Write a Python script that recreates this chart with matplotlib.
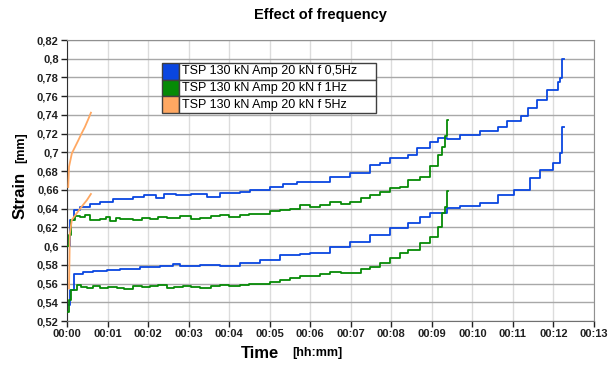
import matplotlib.pyplot as plt
from matplotlib.ticker import FuncFormatter

# time in minutes, strain in mm
t_05_upper = [0.05, 0.07, 0.17, 0.32, 0.57, 0.81, 1.14, 1.63, 1.90, 2.20, 2.40, 2.70, 2.79, 3.05, 3.45, 3.78,
              4.27, 4.52, 4.77, 5.01, 5.33, 5.67, 6.00, 6.49, 6.99, 7.48, 7.73, 7.98, 8.05, 8.42, 8.64, 8.96,
              9.16, 9.38, 9.70, 10.20, 10.62, 10.86, 11.19, 11.36, 11.60, 11.85, 12.10, 12.17, 12.22, 12.27]
s_05_upper = [0.600, 0.628, 0.638, 0.642, 0.645, 0.647, 0.650, 0.652, 0.654, 0.651, 0.656, 0.654, 0.6545, 0.6555,
              0.652, 0.6564, 0.6573, 0.660, 0.660, 0.6635, 0.666, 0.668, 0.6685, 0.674, 0.6776, 0.6866, 0.689,
              0.6937, 0.694, 0.697, 0.705, 0.711, 0.715, 0.714, 0.719, 0.723, 0.727, 0.733, 0.739, 0.747, 0.756,
              0.767, 0.775, 0.779, 0.800, 0.800]

t_05_lower = [0.05, 0.08, 0.18, 0.40, 0.65, 0.98, 1.31, 1.80, 2.30, 2.62, 2.79, 3.28, 3.78, 4.27, 4.77, 5.26,
              5.75, 6.00, 6.49, 6.99, 7.48, 7.98, 8.42, 8.72, 8.96, 9.38, 9.70, 10.20, 10.62, 11.02, 11.43, 11.68,
              12.00, 12.17, 12.22, 12.27]
s_05_lower = [0.537, 0.553, 0.5698, 0.5725, 0.573, 0.5743, 0.576, 0.578, 0.579, 0.5807, 0.5786, 0.5797, 0.579,
              0.5815, 0.585, 0.5905, 0.5915, 0.593, 0.599, 0.6046, 0.612, 0.619, 0.6243, 0.6313, 0.6356, 0.6403,
              0.6427, 0.6456, 0.6545, 0.660, 0.6723, 0.681, 0.6884, 0.699, 0.7268, 0.727]

t_1_upper = [0.03, 0.05, 0.10, 0.20, 0.32, 0.45, 0.57, 0.81, 0.95, 1.06, 1.20, 1.31, 1.63, 1.85, 2.05, 2.25, 2.47,
             2.79, 3.05, 3.28, 3.55, 3.78, 4.00, 4.27, 4.50, 4.77, 5.00, 5.26, 5.50, 5.75, 6.00, 6.25, 6.49, 6.75,
             6.99, 7.25, 7.48, 7.73, 7.98, 8.22, 8.42, 8.72, 8.96, 9.14, 9.26, 9.33, 9.37, 9.41]
s_1_upper = [0.600, 0.612, 0.628, 0.6317, 0.631, 0.633, 0.628, 0.629, 0.631, 0.627, 0.630, 0.629, 0.628, 0.630,
             0.629, 0.631, 0.630, 0.632, 0.629, 0.630, 0.632, 0.633, 0.631, 0.6328, 0.634, 0.6345, 0.637, 0.639,
             0.640, 0.6434, 0.642, 0.644, 0.6474, 0.645, 0.6474, 0.651, 0.6545, 0.658, 0.6616, 0.663, 0.6705,
             0.674, 0.685, 0.697, 0.706, 0.717, 0.735, 0.735]

t_1_lower = [0.03, 0.05, 0.10, 0.24, 0.35, 0.49, 0.65, 0.81, 1.00, 1.23, 1.40, 1.63, 1.85, 2.05, 2.25, 2.47, 2.65,
             2.87, 3.05, 3.28, 3.55, 3.78, 4.00, 4.27, 4.50, 4.77, 5.00, 5.26, 5.50, 5.75, 6.00, 6.25, 6.49, 6.75,
             6.99, 7.25, 7.48, 7.73, 7.98, 8.22, 8.42, 8.72, 8.96, 9.14, 9.26, 9.33, 9.38, 9.41]
s_1_lower = [0.530, 0.5423, 0.553, 0.5584, 0.556, 0.5555, 0.557, 0.5555, 0.556, 0.555, 0.554, 0.557, 0.556,
             0.557, 0.558, 0.555, 0.556, 0.557, 0.556, 0.555, 0.557, 0.5584, 0.557, 0.558, 0.559, 0.560, 0.562,
             0.5637, 0.566, 0.568, 0.568, 0.570, 0.5725, 0.571, 0.5714, 0.575, 0.578, 0.5815, 0.587, 0.5922,
             0.5957, 0.603, 0.610, 0.6206, 0.635, 0.642, 0.659, 0.659]

t_5_upper = [0.03, 0.05, 0.12, 0.20, 0.28, 0.36, 0.44, 0.53, 0.59]
s_5_upper = [0.663, 0.6847, 0.699, 0.706, 0.713, 0.7203, 0.727, 0.736, 0.7424]

t_5_lower = [0.05, 0.07, 0.12, 0.24, 0.36, 0.49, 0.59]
s_5_lower = [0.5548, 0.6135, 0.628, 0.635, 0.642, 0.649, 0.6556]

labels = ["TSP 130 kN Amp 20 kN f 0,5Hz", "TSP 130 kN Amp 20 kN f 1Hz", "TSP 130 kN Amp 20 kN f 5Hz"]
COLORS = ["#0a46e0", "#068a06", "#ffa862"]
time_ticks = ["00:%02d" % m for m in range(14)]

plt.rcParams['font.family'] = ['Liberation Sans', 'DejaVu Sans']

fig = plt.figure(figsize=(6.13, 3.68), dpi=100)
ax = fig.add_axes([0.1093, 0.1277, 0.8597, 0.7636])

lw = 1.3
ax.plot(t_05_upper, s_05_upper, color=COLORS[0], lw=lw, drawstyle='steps-post', zorder=3)
ax.plot(t_05_lower, s_05_lower, color=COLORS[0], lw=lw, drawstyle='steps-post', zorder=3)
ax.plot(t_1_upper, s_1_upper, color=COLORS[1], lw=lw, drawstyle='steps-post', zorder=3)
ax.plot(t_1_lower, s_1_lower, color=COLORS[1], lw=lw, drawstyle='steps-post', zorder=3)
ax.plot(t_5_upper, s_5_upper, color=COLORS[2], lw=lw, zorder=3)
ax.plot(t_5_lower, s_5_lower, color=COLORS[2], lw=lw, zorder=3)

ax.set_xlim(0, 13)
ax.set_ylim(0.52, 0.82)
ax.set_xticks(range(14))
ax.set_xticklabels(time_ticks)
ax.set_yticks([0.52 + 0.02 * i for i in range(16)])
ax.yaxis.set_major_formatter(FuncFormatter(lambda v, p: ("%.2f" % v).rstrip('0').replace('.', ',')))

for lab in ax.get_xticklabels() + ax.get_yticklabels():
    lab.set_fontweight('bold')
    lab.set_fontsize(8)
ax.tick_params(direction='out', length=4, width=1, pad=2, colors='#202020')

# grid: dark horizontal, light vertical
ax.yaxis.grid(True, color='#a8a8a8', lw=1, zorder=0)
ax.xaxis.grid(True, color='#dcdcdc', lw=1, zorder=0)
ax.set_axisbelow(True)

ax.spines['left'].set_color('#303030')
ax.spines['bottom'].set_color('#707070')
ax.spines['top'].set_color('#909090')
ax.spines['right'].set_color('#909090')

# legend drawn as a table with colour swatches
cells = [['', lab] for lab in labels]
cell_colors = [[c, 'white'] for c in COLORS]
tab = ax.table(cellText=cells, cellColours=cell_colors, cellLoc='left',
               colWidths=[0.08, 0.92], bbox=[0.180, 0.740, 0.406, 0.178], zorder=5)
tab.auto_set_font_size(False)
tab.set_fontsize(9)
for key, cell in tab.get_celld().items():
    cell.set_edgecolor('#404040')
    cell.set_linewidth(1)
    cell.PAD = 0.013

fig.text(0.522, 0.958, "Effect of frequency", ha='center', va='center', fontsize=10.5, fontweight='bold')
fig.text(0.033, 0.469, "Strain", rotation=90, ha='center', va='center', fontsize=12, fontweight='bold')
fig.text(0.035, 0.599, "[mm]", rotation=90, ha='center', va='center', fontsize=9, fontweight='bold')
fig.text(0.424, 0.040, "Time", ha='center', va='center', fontsize=12, fontweight='bold')
fig.text(0.517, 0.040, "[hh:mm]", ha='center', va='center', fontsize=9, fontweight='bold')

fig.savefig("out.png", dpi=100)
